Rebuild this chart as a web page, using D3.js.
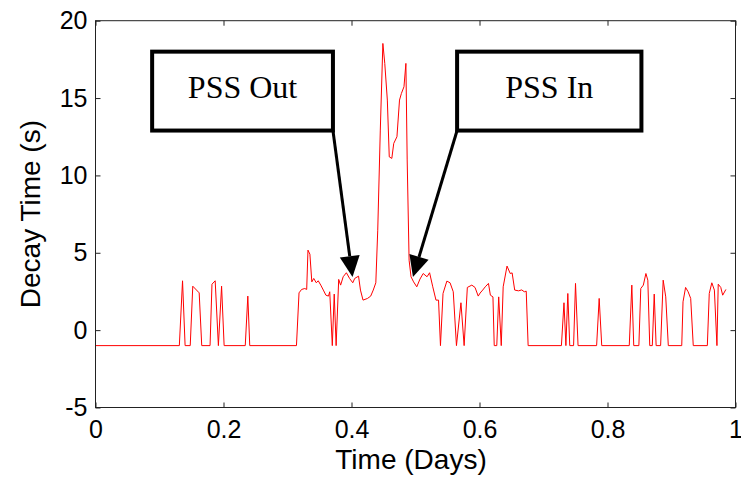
<!DOCTYPE html>
<html>
<head>
<meta charset="utf-8">
<script src="https://d3js.org/d3.v7.min.js"></script>
<style>
    body { margin: 0; background: #fff; }
    #chart-area { width: 741px; height: 479px; }
    .tick text { font-family: "Liberation Sans", Arial, Helvetica, sans-serif; font-size: 25px; fill: #000; }
    .axis-label { font-family: "Liberation Sans", Arial, Helvetica, sans-serif; font-size: 28px; fill: #000; }
    .note-text { font-family: "Liberation Serif", "Times New Roman", serif; font-size: 32px; fill: #000; }
</style>
</head>
<body>
<div id="chart-area"></div>
<script>

// data: time (days) and decay time (s)
const times = [0, 0.131, 0.136, 0.140, 0.148, 0.152, 0.162, 0.166, 0.179, 0.182, 0.187, 0.192, 0.197, 0.201,
    0.234, 0.238, 0.241, 0.314, 0.318, 0.322, 0.327, 0.330, 0.332, 0.335, 0.338, 0.341, 0.345, 0.348,
    0.352, 0.356, 0.360, 0.364, 0.366, 0.370, 0.373, 0.376, 0.380, 0.383, 0.387, 0.392, 0.397, 0.402,
    0.405, 0.411, 0.414, 0.418, 0.425, 0.430, 0.434, 0.438, 0.441, 0.445, 0.449, 0.452, 0.456, 0.459,
    0.463, 0.466, 0.471, 0.475, 0.478, 0.482, 0.485, 0.487, 0.490, 0.493, 0.497, 0.502, 0.507, 0.512,
    0.518, 0.522, 0.527, 0.532, 0.536, 0.539, 0.543, 0.549, 0.554, 0.559, 0.564, 0.571, 0.576, 0.581,
    0.588, 0.593, 0.598, 0.601, 0.605, 0.609, 0.614, 0.617, 0.621, 0.623, 0.627, 0.630, 0.634, 0.637,
    0.643, 0.648, 0.651, 0.655, 0.661, 0.666, 0.670, 0.673, 0.676, 0.728, 0.732, 0.735, 0.738, 0.741,
    0.747, 0.750, 0.754, 0.783, 0.787, 0.791, 0.834, 0.838, 0.841, 0.849, 0.852, 0.856, 0.860, 0.863,
    0.866, 0.870, 0.873, 0.876, 0.883, 0.887, 0.891, 0.895, 0.916, 0.918, 0.922, 0.926, 0.930, 0.934,
    0.956, 0.959, 0.963, 0.967, 0.971, 0.973, 0.977, 0.980, 0.985];

const decay = [-1, -1, 3.19, -1, -1, 2.84, 2.41, -1, -1, 2.97, 3.19, -1, 2.84, -1,
    -1, 2.2, -1, -1, 2.41, 2.63, 2.69, 2.63, 5.17, 4.91, 3.12, 3.34, 3.06, 3.19,
    2.91, 2.59, 2.26, 2.2, 2.48, -1, 2.33, -1, 3.28, 2.91, 3.45, 3.71, 3.34, 3.06,
    3.34, 3.49, 2.59, 1.94, 2.05, 2.2, 2.59, 3.06, 6.46, 12.93, 18.53, 17.24, 14.87, 11.2,
    11.1, 12.07, 12.5, 14.87, 15.3, 15.73, 17.24, 11.0, 4.52, 3.45, 3.12, 2.8, 3.3, 3.66,
    3.45, 3.71, 2.8, 1.94, 1.94, -1, 2.37, 3.17, 3.06, 2.48, -1, 1.77, -1, 2.76,
    2.91, 2.76, 2.2, 2.4, 2.59, 2.8, 3.02, 2.26, 2.15, -1, -1, 2.15, -1, 2.8,
    4.14, 3.66, 3.7, 2.59, 2.54, 2.6, 2.48, 2.52, -1, -1, 1.77, -1, 2.37, -1,
    -1, 3.02, -1, -1, 2.05, -1, -1, 2.91, -1, -1, 2.69, 2.91, 3.66, 3.23,
    -1, -1, 2.33, -1, -1, 3.23, 2.15, -1, -1, 1.83, 2.76, 2.48, 2.05, -1,
    -1, 2.37, 3.06, 2.59, -1, 2.97, 2.76, 2.26, 2.63];

// axis ticks
const xTicks = [0, 0.2, 0.4, 0.6, 0.8, 1];
const xTickLabels = ["0", "0.2", "0.4", "0.6", "0.8", "1"];
const yTicks = [-5, 0, 5, 10, 15, 20];
const yTickLabels = ["-5", "0", "5", "10", "15", "20"];

// annotations (box corners and arrow tips in data units)
const noteLabels = ["PSS Out", "PSS In"];
const noteBoxLeft = [0.0885, 0.565];
const noteBoxRight = [0.371, 0.853];
const noteBoxTop = [18.0, 18.0];
const noteBoxBottom = [12.9, 12.9];
const noteArrowFromT = [0.371, 0.565];
const noteTipT = [0.4016, 0.496];
const noteTipV = [3.43, 3.43];


class DecayVis {

    constructor(parentElement) {
        this.parentElement = parentElement;
        this.initVis();
    }

    initVis() {
        let vis = this;

        vis.width = 741;
        vis.height = 479;

        vis.svg = d3.select("#" + vis.parentElement).append("svg")
            .attr("width", vis.width)
            .attr("height", vis.height);

        vis.svg.append("rect")
            .attr("width", vis.width)
            .attr("height", vis.height)
            .attr("fill", "#fff");

        // plot box
        vis.plot = {left: 95.5, right: 735.5, top: 20.7, bottom: 407.5};

        vis.x = d3.scaleLinear()
            .domain([0, 1])
            .range([vis.plot.left, vis.plot.right]);

        vis.y = d3.scaleLinear()
            .domain([-5, 20])
            .range([vis.plot.bottom, vis.plot.top]);

        vis.wrangleData();
    }

    wrangleData() {
        let vis = this;

        vis.points = times.map((t, i) => ({t: t, v: decay[i]}));

        vis.notes = noteLabels.map((label, i) => ({
            label: label,
            x0: noteBoxLeft[i], x1: noteBoxRight[i],
            y0: noteBoxTop[i], y1: noteBoxBottom[i],
            fromT: noteArrowFromT[i],
            tipT: noteTipT[i], tipV: noteTipV[i]
        }));

        vis.updateVis();
    }

    updateVis() {
        let vis = this;

        // data line
        let line = d3.line()
            .x(d => vis.x(d.t))
            .y(d => vis.y(d.v));

        vis.svg.append("path")
            .datum(vis.points)
            .attr("fill", "none")
            .attr("stroke", "#ff0000")
            .attr("stroke-width", 1)
            .attr("stroke-linejoin", "round")
            .attr("d", line);

        // axes, matlab style: ticks pointing in, on all four sides
        let xAxis = d3.axisBottom(vis.x)
            .tickValues(xTicks)
            .tickFormat((d, i) => xTickLabels[i])
            .tickSizeInner(-5)
            .tickSizeOuter(0)
            .tickPadding(13);

        let yAxis = d3.axisLeft(vis.y)
            .tickValues(yTicks)
            .tickFormat((d, i) => yTickLabels[i])
            .tickSizeInner(-5)
            .tickSizeOuter(0)
            .tickPadding(8);

        vis.svg.append("g")
            .attr("class", "x-axis")
            .attr("transform", `translate(0, ${vis.plot.bottom})`)
            .call(xAxis);

        vis.svg.append("g")
            .attr("class", "y-axis")
            .attr("transform", `translate(${vis.plot.left}, 0)`)
            .call(yAxis);

        vis.svg.append("g")
            .attr("transform", `translate(0, ${vis.plot.top})`)
            .call(d3.axisTop(vis.x).tickValues(xTicks).tickFormat("").tickSizeInner(-5).tickSizeOuter(0));

        vis.svg.append("g")
            .attr("transform", `translate(${vis.plot.right}, 0)`)
            .call(d3.axisRight(vis.y).tickValues(yTicks).tickFormat("").tickSizeInner(-5).tickSizeOuter(0));

        vis.svg.selectAll(".domain").remove();
        vis.svg.selectAll(".tick line").attr("stroke", "#222");

        vis.svg.append("rect")
            .attr("x", vis.plot.left)
            .attr("y", vis.plot.top)
            .attr("width", vis.plot.right - vis.plot.left)
            .attr("height", vis.plot.bottom - vis.plot.top)
            .attr("fill", "none")
            .attr("stroke", "#222")
            .attr("stroke-width", 1);

        // axis titles
        vis.svg.append("text")
            .attr("class", "axis-label")
            .attr("x", 411)
            .attr("y", 469)
            .attr("text-anchor", "middle")
            .text("Time (Days)");

        vis.svg.append("text")
            .attr("class", "axis-label")
            .attr("transform", `translate(40, ${(vis.plot.top + vis.plot.bottom) / 2}) rotate(-90)`)
            .attr("text-anchor", "middle")
            .text("Decay Time (s)");

        // annotation boxes + arrows
        let notes = vis.svg.selectAll(".note")
            .data(vis.notes)
            .enter().append("g")
            .attr("class", "note");

        notes.append("rect")
            .attr("x", d => vis.x(d.x0))
            .attr("y", d => vis.y(d.y0))
            .attr("width", d => vis.x(d.x1) - vis.x(d.x0))
            .attr("height", d => vis.y(d.y1) - vis.y(d.y0))
            .attr("fill", "#fff")
            .attr("stroke", "#000")
            .attr("stroke-width", 4);

        notes.append("text")
            .attr("class", "note-text")
            .attr("x", d => (vis.x(d.x0) + vis.x(d.x1)) / 2)
            .attr("y", d => vis.y(d.y0) + 46)
            .attr("text-anchor", "middle")
            .text(d => d.label);

        let headLen = 21, headHalf = 10;

        notes.each(function (d) {
            let g = d3.select(this);
            let x0 = vis.x(d.fromT), y0 = vis.y(d.y1);
            let x1 = vis.x(d.tipT), y1 = vis.y(d.tipV);
            let len = Math.hypot(x1 - x0, y1 - y0);
            let ux = (x1 - x0) / len, uy = (y1 - y0) / len;
            let bx = x1 - ux * headLen, by = y1 - uy * headLen;

            g.append("line")
                .attr("x1", x0).attr("y1", y0)
                .attr("x2", bx).attr("y2", by)
                .attr("stroke", "#000")
                .attr("stroke-width", 3);

            g.append("path")
                .attr("d", `M${x1},${y1}L${bx - uy * headHalf},${by + ux * headHalf}L${bx + uy * headHalf},${by - ux * headHalf}Z`)
                .attr("fill", "#000");
        });
    }
}

new DecayVis("chart-area");

</script>
</body>
</html>
